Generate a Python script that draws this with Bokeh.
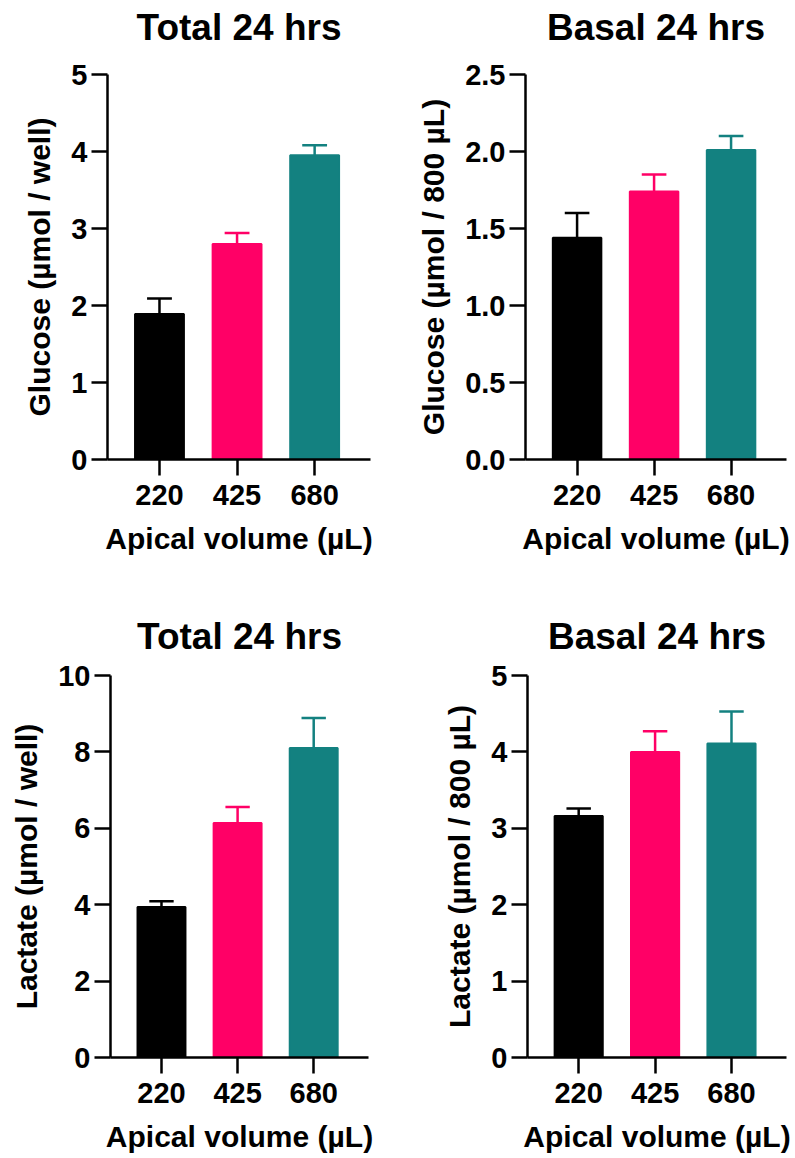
from bokeh.plotting import figure
from bokeh.layouts import column, row
from bokeh.models import FixedTicker, Range1d, NumeralTickFormatter, Title
from bokeh.embed import file_html
from bokeh.resources import INLINE

categories = ["220", "425", "680"]
bar_colors = ["#000000", "#FF0066", "#138180"]

glucose_total = [1.89, 2.80, 3.95]
glucose_total_err = [0.20, 0.14, 0.13]
glucose_basal = [1.44, 1.74, 2.01]
glucose_basal_err = [0.16, 0.11, 0.09]
lactate_total = [3.94, 6.14, 8.10]
lactate_total_err = [0.15, 0.42, 0.79]
lactate_basal = [3.16, 4.00, 4.11]
lactate_basal_err = [0.10, 0.27, 0.42]

FONT = "Liberation Sans"


def panel(title, ylabel, vals, errs, ymax, yticks, fmt, width, height,
          bl, br, bt, bb, t_standoff, spacer):
    p = figure(width=width, height=height, output_backend="svg",
               toolbar_location=None, x_range=Range1d(-0.67, 2.72),
               y_range=Range1d(0, ymax), min_border_left=bl,
               min_border_right=br, min_border_top=bt, min_border_bottom=bb)
    xs = list(range(len(categories)))
    tops = [v + e for v, e in zip(vals, errs)]
    p.vbar(x=xs, top=vals, width=0.63, fill_color=bar_colors,
           line_color=bar_colors, line_width=2)
    p.segment(x0=xs, y0=vals, x1=xs, y1=tops, line_color=bar_colors,
              line_width=2.5)
    p.segment(x0=[x - 0.16 for x in xs], y0=tops,
              x1=[x + 0.16 for x in xs], y1=tops,
              line_color=bar_colors, line_width=2.5)

    if spacer:
        p.add_layout(Title(text=" ", text_font_size="2px", standoff=spacer),
                     "above")

    p.title.text = title
    p.title.align = "center"
    p.title.text_font = FONT
    p.title.text_font_size = "37px"
    p.title.text_font_style = "bold"
    p.title.text_color = "#000000"
    p.title.standoff = t_standoff

    p.outline_line_color = None
    p.xgrid.grid_line_color = None
    p.ygrid.grid_line_color = None

    for ax in (p.xaxis[0], p.yaxis[0]):
        ax.axis_line_width = 2.5
        ax.axis_line_color = "#000000"
        ax.major_tick_line_width = 2.5
        ax.major_tick_line_color = "#000000"
        ax.major_tick_in = 0
        ax.major_tick_out = 16
        ax.minor_tick_line_color = None
        ax.major_label_text_font = FONT
        ax.major_label_text_font_size = "29px"
        ax.major_label_text_font_style = "bold"
        ax.major_label_text_color = "#000000"
        ax.axis_label_text_font = FONT
        ax.axis_label_text_font_size = "30px"
        ax.axis_label_text_font_style = "bold"
        ax.axis_label_text_color = "#000000"

    p.xaxis.ticker = FixedTicker(ticks=xs)
    p.xaxis.major_label_overrides = {i: c for i, c in enumerate(categories)}
    p.xaxis.axis_label = "Apical volume (µL)"
    p.xaxis.major_label_standoff = 9
    p.xaxis.axis_label_standoff = 14

    p.yaxis.ticker = FixedTicker(ticks=yticks)
    p.yaxis.formatter = NumeralTickFormatter(format=fmt)
    p.yaxis.axis_label = ylabel
    p.yaxis.major_label_standoff = 4
    p.yaxis.axis_label_standoff = 12
    return p


p1 = panel("Total 24 hrs", "Glucose (µmol / well)", glucose_total,
           glucose_total_err, 5, [0, 1, 2, 3, 4, 5], "0",
           400, 575, 107, 30, 74, 116, 0, 23)
p2 = panel("Basal 24 hrs", "Glucose (µmol / 800 µL)", glucose_basal,
           glucose_basal_err, 2.5, [0, 0.5, 1.0, 1.5, 2.0, 2.5], "0.0",
           395, 575, 125, 9, 74, 116, 0, 23)
p3 = panel("Total 24 hrs", "Lactate (µmol / well)", lactate_total,
           lactate_total_err, 10, [0, 2, 4, 6, 8, 10], "0",
           400, 582, 110, 32, 100, 99, 38, 0)
p4 = panel("Basal 24 hrs", "Lactate (µmol / 800 µL)", lactate_basal,
           lactate_basal_err, 5, [0, 1, 2, 3, 4, 5], "0",
           395, 582, 127, 9, 98, 100, 38, 0)

layout = column(row(p1, p2), row(p3, p4))

open("out.html", "w").write(file_html(layout, INLINE))
